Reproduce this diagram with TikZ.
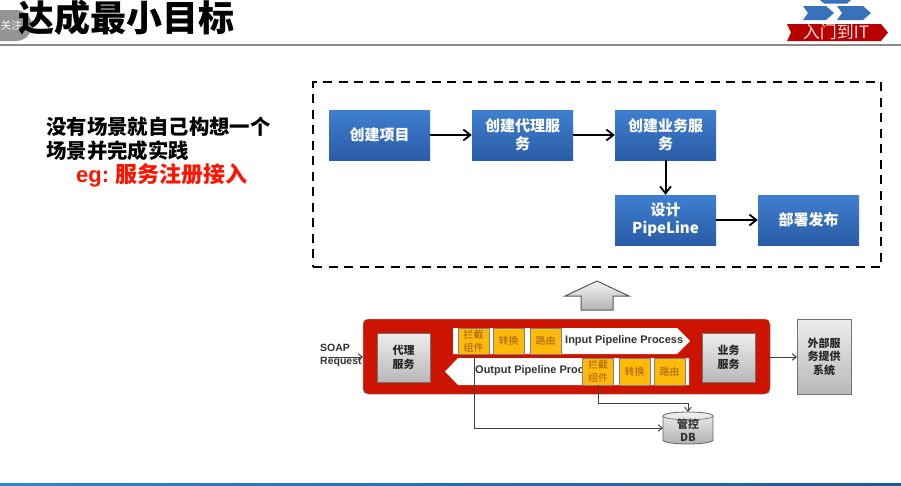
\documentclass[tikz,border=0pt]{standalone}
\usepackage{fontspec}
\setmainfont{Noto Sans CJK SC}
\newfontfamily\lat{Liberation Sans}
\usetikzlibrary{arrows.meta,shadows}
\definecolor{boxblueT}{HTML}{3F7FD0}
\definecolor{boxblueB}{HTML}{2A5CA6}
\definecolor{redbar}{HTML}{CC1400}
\definecolor{cellor}{HTML}{FFB908}
\definecolor{celltx}{HTML}{A05A10}
\definecolor{lineL}{HTML}{2A86CC}
\definecolor{lineR}{HTML}{1C5A96}
\tikzset{
 x=1pt,y=-1pt,
 bluebox/.style={draw=none,minimum width=101pt,minimum height=50pt,inner sep=0pt,align=center,
   top color=boxblueT,bottom color=boxblueB,text=white,font=\fontsize{15}{18}\selectfont\bfseries,
   drop shadow={shadow xshift=0pt,shadow yshift=-1pt,opacity=.3}},
 flow/.style={draw=black,line width=2pt,-{Straight Barb[length=7pt,width=11pt,line width=1.8pt]}},
 thin flow/.style={draw=black!75,line width=1pt,-{Straight Barb[length=4pt,width=6.5pt,line width=1pt]}},
 graybox/.style={draw=black!55,line width=.8pt,inner sep=0pt,align=center,top color=black!7,bottom color=black!28,
   font=\fontsize{11}{13.5}\selectfont\bfseries,text=black!85},
 cell/.style={draw=black!50,line width=.4pt,fill=cellor,inner sep=0pt,minimum height=26pt,minimum width=31pt,
   align=center,font=\fontsize{10}{13}\selectfont,text=celltx},
 label text/.style={inner sep=0pt,font=\lat\fontsize{11}{13}\selectfont\bfseries,text=black!80},
 side text/.style={inner sep=0pt,anchor=west,font=\fontsize{20.4}{24}\selectfont\bfseries},
}
\begin{document}
\begin{tikzpicture}
\useasboundingbox (0,0) rectangle (901,485);
\fill[white] (0,0) rectangle (901,485);
% header
\fill[black!42] (0,10) -- (16,10) .. controls (24.5,10) and (32,17) .. (32,25.5) .. controls (32,34) and (24.5,41) .. (16,41) -- (0,41) -- cycle;
\node[inner sep=0pt,text=white,font=\fontsize{10.5}{13}\selectfont] (badge) at (11.5,25) {关注};
\node[inner sep=0pt,anchor=west,font=\fontsize{36}{40}\selectfont\bfseries,text=black] (title) at (18,18) {达成最小目标};
\draw[black!45,line width=1.2pt] (0,45) -- (901,45);
% logo
\fill[boxblueT!90!black] (820,0) -- (851,0) -- (847,3.5) -- (824,3.5) -- cycle;
\fill[boxblueT!90!black] (803,6) -- (826,6) -- (834,13) -- (826,20) -- (803,20) -- (808,13) -- cycle;
\fill[boxblueT!90!black] (837,6) -- (863,6) -- (871,13) -- (863,20) -- (837,20) -- (842,13) -- cycle;
\fill[red!72!black] (787,24) -- (881,24) -- (888,32.5) -- (881,41) -- (787,41) -- (791,32.5) -- cycle;
\node[inner sep=0pt,text=white!88!red,font=\fontsize{17}{18}\selectfont] (logo) at (836,32.5) {入门到IT};
% left text
\node[side text] (t1) at (46,127) {没有场景就自己构想一个};
\node[side text] (t2) at (46,151) {场景并完成实践};
\node[side text,text=red!85!orange,font=\fontsize{22}{24}\selectfont\bfseries] (t3) at (76,175) {{\lat\bfseries eg:} 服务注册接入};
% dashed frame
\node[draw=black,line width=2.2pt,dash pattern=on 9pt off 6.5pt,minimum width=568pt,minimum height=185pt,inner sep=0pt] (frame) at (597,174.5) {};
% blue boxes
\node[bluebox] (a) at (379.5,135) {创建项目};
\node[bluebox] (b) at (522.5,135) {创建代理服\\务};
\node[bluebox] (c) at (665.5,135) {创建业务服\\务};
\node[bluebox] (d) at (665.5,220) {设计\\PipeLine};
\node[bluebox] (e) at (808.5,220) {部署发布};
\draw[flow] (a) -- (b);
\draw[flow] (b) -- (c);
\draw[flow] (c) -- (d);
\draw[flow] (d) -- (e);
% big up arrow
\draw[draw=black!65,line width=1pt,top color=black!5,bottom color=black!30] (597,281) -- (629,296) -- (613,296) -- (613,310) -- (581,310) -- (581,296) -- (565,296) -- cycle;
% red bar
\node[draw=black!45,line width=.5pt,fill=redbar,rounded corners=5pt,minimum width=407pt,minimum height=75pt,inner sep=0pt] (bar) at (566.5,356.5) {};
\node[graybox,minimum width=53pt,minimum height=49pt] (proxy) at (403.5,357.5) {代理\\服务};
\node[graybox,minimum width=53pt,minimum height=49pt] (biz) at (728.5,357.5) {业务\\服务};
\node[graybox,minimum width=54pt,minimum height=75pt] (ext) at (824,356.5) {外部服\\务提供\\系统};
% pipelines
\fill[white] (453,328) -- (677,328) -- (690,341) -- (677,354) -- (453,354) -- cycle;
\fill[white] (445,371.5) -- (458,358) -- (689,358) -- (689,385) -- (458,385) -- cycle;
\node[label text,anchor=west] (inp) at (565,341) {Input Pipeline Process};
\node[label text,anchor=west] (outp) at (475,371) {Output Pipeline Proc};
\node[cell] (c1) at (473.5,341) {拦截\\组件};
\node[cell] (c2) at (508.5,341) {转换};
\node[cell] (c3) at (545.5,341) {路由};
\node[cell,minimum height=27pt] (c4) at (598,371.5) {拦截\\组件};
\node[cell,minimum height=27pt] (c5) at (634.5,371.5) {转换};
\node[cell,minimum height=27pt] (c6) at (669.5,371.5) {路由};
% DB
\coordinate (dbc) at (688,428);
\draw[draw=black!60,line width=.8pt,top color=black!5,bottom color=black!32] (663,416) .. controls (663,410.7) and (713,410.7) .. (713,416) -- (713,440) .. controls (713,445.3) and (663,445.3) .. (663,440) -- cycle;
\draw[draw=black!60,line width=.6pt] (663,416) .. controls (663,421) and (713,421) .. (713,416);
\node[inner sep=0pt,font=\fontsize{11}{13}\selectfont\bfseries,text=black!80,align=center] (dbt) at (688,430.5) {管控\\DB};
% connectors
\coordinate (o1) at (474,358);
\coordinate (o2) at (474,428);
\coordinate (dbl) at (663,428);
\coordinate (i1) at (598,385);
\coordinate (i2) at (598,403);
\coordinate (i3) at (688,403);
\coordinate (dbt2) at (688,412);
\draw[thin flow] (o1) -- (o2) -- (dbl);
\draw[thin flow] (i1) -- (i2) -- (i3) -- (dbt2);
% SOAP
\node[label text,anchor=west,font=\lat\fontsize{10.5}{13}\selectfont\bfseries,align=left] (soap) at (320,355.5) {SOAP\\Request};
\coordinate (s1) at (328,357);
\coordinate (s2) at (363,357);
\draw[thin flow] (s1) -- (s2);
\coordinate (barr) at (770,357);
\coordinate (extl) at (797,357);
\draw[thin flow] (barr) -- (extl);
% bottom line
\shade[left color=lineL,right color=lineR] (0,483.3) rectangle (901,485);
\end{tikzpicture}
\end{document}
